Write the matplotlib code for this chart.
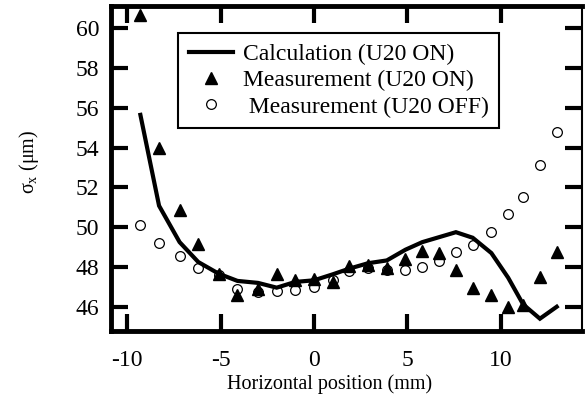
"""Beam size sigma_x versus horizontal position, U20 on/off."""
import matplotlib.pyplot as plt
import matplotlib as mpl

mpl.rcParams["font.family"] = ["Liberation Serif", "DejaVu Serif"]
mpl.rcParams["mathtext.fontset"] = "custom"
mpl.rcParams["mathtext.rm"] = "Liberation Serif"
mpl.rcParams["mathtext.it"] = "Liberation Serif"

# horizontal positions (mm), shared by all three series
position = [-9.3, -8.3, -7.2, -6.2, -5.1, -4.1, -3.0, -2.0, -1.0, 0.0,
            1.0, 1.9, 2.9, 3.9, 4.9, 5.8, 6.7, 7.6, 8.5, 9.5,
            10.4, 11.2, 12.1, 13.0]

calc_on = [55.65, 51.08, 49.25, 48.25, 47.66, 47.30, 47.20, 46.96, 47.25, 47.33,
           47.63, 47.92, 48.19, 48.33, 48.87, 49.25, 49.50, 49.75, 49.47, 48.70,
           47.46, 46.12, 45.40, 46.00]

meas_on = [60.67, 53.97, 50.87, 49.17, 47.63, 46.58, 46.91, 47.63, 47.33, 47.38,
           47.25, 48.03, 48.08, 47.97, 48.42, 48.80, 48.70, 47.83, 46.96, 46.58,
           46.00, 46.08, 47.50, 48.74]

meas_off = [50.09, 49.22, 48.54, 47.97, 47.60, 46.90, 46.73, 46.78, 46.85, 46.98,
            47.35, 47.80, 47.97, 47.83, 47.86, 48.00, 48.30, 48.75, 49.13, 49.75,
            50.64, 51.50, 53.13, 54.80]

xticks = [-10, -5, 0, 5, 10]
yticks = [46, 48, 50, 52, 54, 56, 58, 60]

fig = plt.figure(figsize=(5.86, 3.96), dpi=100)
ax = fig.add_axes([0.1886, 0.1641, 0.994 - 0.1886, 0.9861 - 0.1641])

ax.plot(position, calc_on, color="black", lw=3.0, solid_joinstyle="miter",
        label="Calculation (U20 ON)", zorder=3)
ax.plot(position, meas_on, ls="none", marker="^", ms=9, color="black",
        label="Measurement (U20 ON)", zorder=4)
ax.plot(position, meas_off, ls="none", marker="o", ms=7, mfc="white",
        mec="black", mew=0.9, label=" Measurement (U20 OFF)", zorder=2)

ax.set_xlim(-10.9, 14.38)
ax.set_ylim(44.78, 61.15)
ax.set_xticks(xticks)
ax.set_yticks(yticks)
ax.set_xticklabels([str(t) for t in xticks])

ax.tick_params(direction="in", length=12, width=3, labelsize=17,
               top=True, right=True, pad=8)
ax.tick_params(axis="x", pad=14)
for side in ("left", "top", "bottom"):
    ax.spines[side].set_linewidth(3.5)
ax.spines["right"].set_linewidth(1.5)

ax.set_xlabel("Horizontal position (mm)", fontsize=14.5)
ax.xaxis.set_label_coords(0.464, -0.132)
ax.set_ylabel(r"$\sigma_\mathrm{x}$ ($\mathrm{\mu}$m)", fontsize=14.5)
ax.yaxis.set_label_coords(-0.147, 0.519)

leg = ax.legend(loc="upper left", bbox_to_anchor=(0.143, 0.9155),
                borderaxespad=0, fontsize=17, frameon=True, fancybox=False,
                framealpha=1, edgecolor="black", handlelength=1.9,
                handletextpad=0.4, labelspacing=0.2, borderpad=0.45)
leg.get_frame().set_linewidth(1.5)

fig.savefig("out.png", dpi=100, facecolor="white")
